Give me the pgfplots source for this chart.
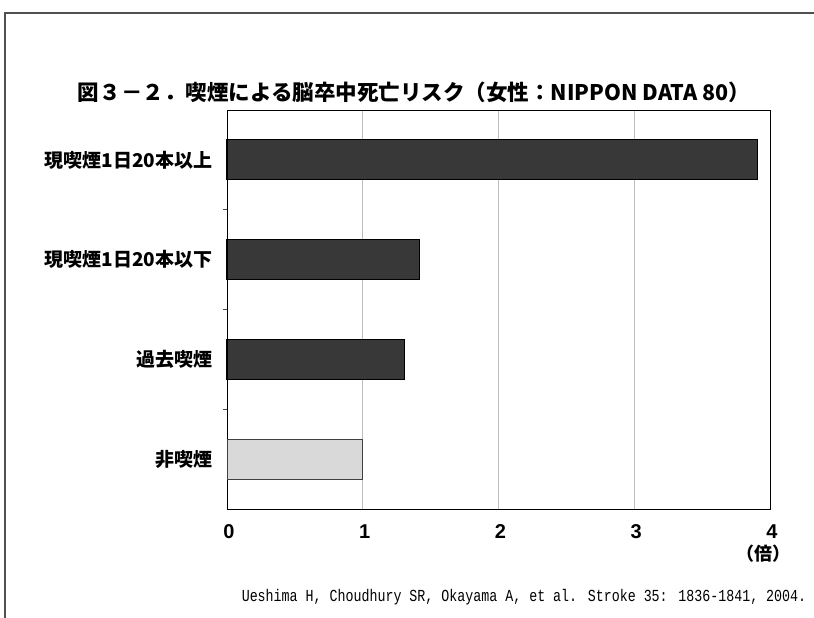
\documentclass[border=0pt]{standalone}
\usepackage{fontspec}
\setmainfont{Noto Sans CJK JP}
\newfontfamily\numfont{Liberation Sans}
\newfontfamily\monofont{Liberation Mono}
\usepackage{pgfplots}
\pgfplotsset{compat=1.18}
\definecolor{bardark}{HTML}{383838}
\definecolor{barlight}{HTML}{D9D9D9}
\definecolor{gridgray}{HTML}{BDBDBD}
\definecolor{framegray}{HTML}{505050}
\begin{document}
\begin{tikzpicture}
\path[use as bounding box] (0,0) rectangle (814bp,-618bp);
% outer frame (left and top edges)
\draw[framegray, line width=1.6bp] (5bp,-618bp) -- (5bp,-13bp) -- (814bp,-13bp);
% title
\node at (414bp,-92bp) {\resizebox{672bp}{!}{\fontsize{21bp}{24bp}\selectfont\bfseries 図３－２．喫煙による脳卒中死亡リスク（女性：NIPPON DATA 80）}};
\begin{axis}[
  at={(227bp,-509bp)}, anchor=south west,
  width=543bp, height=399bp, scale only axis,
  xmin=0, xmax=4, ymin=-0.5, ymax=3.5,
  xtick={0,1,2,3,4}, xticklabels={0,1,2,3,4},
  ytick={0,1,2,3},
  yticklabels={非喫煙,過去喫煙,現喫煙1日20本以下,現喫煙1日20本以上},
  minor ytick={0.5,1.5,2.5},
  major tick length=0pt, minor tick length=4bp,
  tick align=inside, ytick pos=left, xtick pos=bottom,
  minor tick style={black!70, line width=0.8bp},
  xmajorgrids, major grid style={gridgray, line width=1bp},
  axis line style={black, line width=1bp},
  xticklabel style={font=\fontsize{20bp}{22bp}\selectfont\numfont\bfseries, yshift=-12bp, xshift=2bp},
  yticklabel style={font=\fontsize{19bp}{22bp}\selectfont\bfseries, xshift=-11bp},
  xbar, bar width=40bp, bar shift=0pt,
  clip=false,
]
\addplot[draw=black, line width=1.2bp, fill=bardark] coordinates {(3.91,3) (1.42,2) (1.31,1)};
\addplot[draw=black!75, line width=1bp, fill=barlight] coordinates {(1.00,0)};
\end{axis}
\node at (763bp,-554bp) {\fontsize{18bp}{20bp}\selectfont\bfseries（倍）};
\node at (524bp,-597bp) {\scalebox{0.87}[1.1]{\fontsize{15.3bp}{18bp}\selectfont\monofont Ueshima H, Choudhury SR, Okayama A, et al. Stroke 35: 1836-1841, 2004.}};
\end{tikzpicture}
\end{document}
